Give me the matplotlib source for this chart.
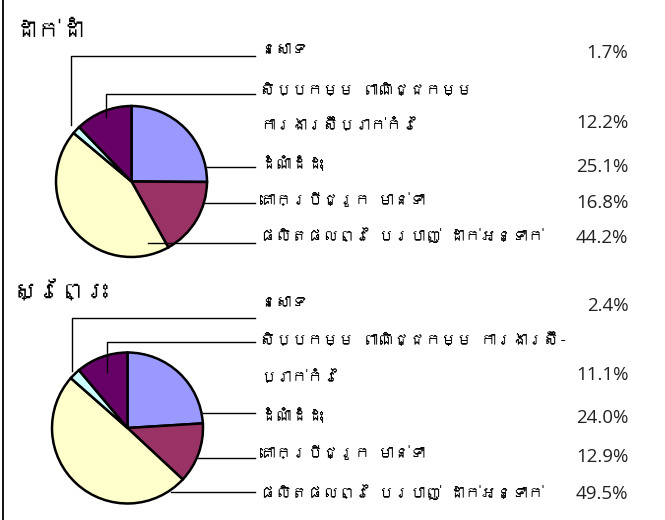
import matplotlib
matplotlib.use("Agg")
import matplotlib.pyplot as plt
import numpy as np
from matplotlib import font_manager as fm
from matplotlib.ft2font import FT2Font

# ---------------- data ----------------
panel_titles = ["ដាក់ដាំ", "ស្រែព្រះ"]
categories_top = [
    "នេសាទ",
    "សិប្បកម្ម ពាណិជ្ជកម្ម\nការងារស៊ីប្រាក់កំរៃ",
    "ដំណាំដំដុះ",
    "គោក្របីជ្រូក មាន់ទា",
    "ផលិតផលព្រៃ បរបាញ់ ដាក់អន្ទាក់",
]
categories_bottom = [
    "នេសាទ",
    "សិប្បកម្ម ពាណិជ្ជកម្ម ការងារស៊ី-\nប្រាក់កំរៃ",
    "ដំណាំដំដុះ",
    "គោក្របីជ្រូក មាន់ទា",
    "ផលិតផលព្រៃ បរបាញ់ ដាក់អន្ទាក់",
]
values_top = [1.7, 12.2, 25.1, 16.8, 44.2]
values_bottom = [2.4, 11.1, 24.0, 12.9, 49.5]
colors = ["#CCFFFF", "#660066", "#9999FF", "#993366", "#FFFFCC"]
# order in which slices are drawn clockwise from 12 o'clock (indices into lists above)
pie_order = [2, 3, 4, 0, 1]

# ---------------- fonts ----------------
khmer_family = None
for f in fm.fontManager.ttflist:
    try:
        cm = FT2Font(f.fname).get_charmap()
        if 0x1780 in cm and 0x17D2 in cm:
            khmer_family = f.name
            break
    except Exception:
        pass
kh_fonts = ([khmer_family] if khmer_family else []) + ["DejaVu Sans"]
num_font = ["Open Sans", "DejaVu Sans"]

W, H = 665, 520
fig = plt.figure(figsize=(W / 100, H / 100), dpi=100)
fig.patch.set_facecolor("white")
ov = fig.add_axes([0, 0, 1, 1])
ov.set_xlim(0, W)
ov.set_ylim(H, 0)
ov.axis("off")
ov.set_zorder(5)
ov.patch.set_alpha(0)

# left border
ov.plot([3, 3], [0, H], color="black", lw=1.3, solid_capstyle="butt")

# ---------------- layout ----------------
panels = [
    dict(title_y=31, cx=131.5, cy=181.5, r=77,
         label_ys=[[50], [90, 125], [163], [200], [235]],
         value_ys=[53, 123, 167, 203, 238],
         line_ys=[56, 93.5, 166.5, 203, 243],
         anchors=[("mid", 1.08), ("mid", 0.90), ("edge",), ("edge",), ("x", 16.5)]),
    dict(title_y=291, cx=127.5, cy=428, r=77,
         label_ys=[[303], [340, 377], [415], [453], [492]],
         value_ys=[306, 375, 418, 457, 494],
         line_ys=[317.5, 341.7, 412.5, 458.3, 491.7],
         anchors=[("mid", 1.03), ("mid", 0.77), ("edge",), ("edge",), ("edge",)]),
]
all_values = [values_top, values_bottom]
all_cats = [categories_top, categories_bottom]

label_x = 260
value_x = 628.5
line_end_x = 255

for p, vals, cats, title in zip(panels, all_values, all_cats, panel_titles):
    cx, cy, r = p["cx"], p["cy"], p["r"]
    ax = fig.add_axes([(cx - r) / W, (H - cy - r) / H, 2 * r / W, 2 * r / H])
    pv = [vals[i] for i in pie_order]
    pc = [colors[i] for i in pie_order]
    ax.pie(pv, colors=pc, startangle=90, counterclock=False,
           wedgeprops=dict(edgecolor="black", linewidth=1.8))
    ax.set_xlim(-1.02, 1.02)
    ax.set_ylim(-1.02, 1.02)
    ax.set_aspect("auto")
    ax.axis("off")

    total = sum(pv)
    cum = 0.0
    mids = {}
    for i, v in zip(pie_order, pv):
        mids[i] = (cum + v / 2) / total * 360.0
        cum += v

    ov.text(14, p["title_y"], title, fontsize=17, fontweight="bold",
            family=kh_fonts, va="center", ha="left", color="black")

    for k in range(len(vals)):
        ly = p["line_ys"][k]
        spec = p["anchors"][k]
        if spec[0] == "mid":
            th = np.radians(mids[k])
            ax_ = cx + spec[1] * r * np.sin(th)
            ay_ = cy - spec[1] * r * np.cos(th)
            ov.plot([ax_, ax_, line_end_x], [ay_, ly, ly], color="black", lw=1.0)
        elif spec[0] == "edge":
            dy = ly - cy
            ax_ = cx + np.sqrt(max(r * r - dy * dy, 0))
            ov.plot([ax_, line_end_x], [ly, ly], color="black", lw=1.0)
        else:
            ov.plot([cx + spec[1], line_end_x], [ly, ly], color="black", lw=1.0)

        for line, y in zip(cats[k].split("\n"), p["label_ys"][k]):
            ov.text(label_x, y, line, fontsize=11.3, family=kh_fonts,
                    va="center", ha="left", color="black")
        ov.text(value_x, p["value_ys"][k], f"{vals[k]:.1f}%", fontsize=13.5,
                family=num_font, va="center", ha="right", color="#222222")

fig.savefig("out.png", dpi=100, facecolor="white")
